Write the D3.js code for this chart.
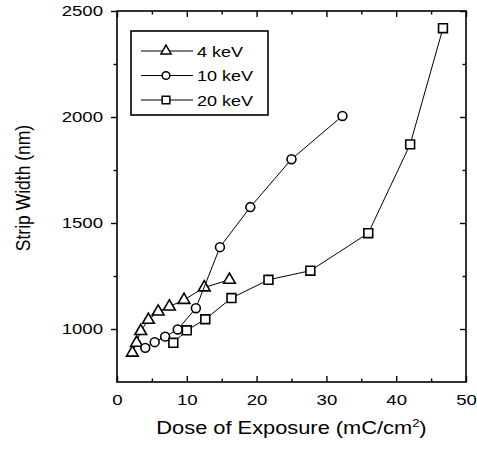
<!DOCTYPE html>
<html>
<head>
<meta charset="utf-8">
<script src="https://cdn.jsdelivr.net/npm/d3@7"></script>
<style>
  body { margin: 0; background: #fff; }
  svg text { font-family: "Liberation Sans", Arial, sans-serif; fill: #000; }
</style>
</head>
<body>
<svg id="chart" width="477" height="452"></svg>
<script>
// data
var doseTri = [2.2, 2.8, 3.4, 4.5, 5.9, 7.5, 9.6, 12.5, 16.1];
var widthTri = [888, 935, 990, 1043, 1082, 1106, 1137, 1196, 1232];
var doseCirc = [4.05, 5.4, 6.9, 8.7, 11.3, 14.75, 19.1, 25.0, 32.3];
var widthCirc = [911, 938, 964, 998, 1098, 1386, 1575, 1801, 2005];
var doseSq = [8.07, 10.0, 12.65, 16.4, 21.7, 27.7, 36.0, 42.0, 46.7];
var widthSq = [935, 994, 1046, 1146, 1232, 1275, 1452, 1871, 2419];
var seriesNames = ["4 keV", "10 keV", "20 keV"];
var xTicks = [0, 10, 20, 30, 40, 50];
var yTicks = [1000, 1500, 2000, 2500];

var margin = { top: 11, right: 11, bottom: 70, left: 117 },
  width = 466 - margin.left,
  height = 382 - margin.top;

var x = d3.scaleLinear().domain([0, 50]).range([0, width]);
var y = d3.scaleLinear().domain([750, 2500]).range([height, 0]);

var svg = d3.select("#chart")
  .append("g")
  .attr("transform", "translate(" + margin.left + "," + margin.top + ")");

// minor ticks on all sides
var xMinor = d3.range(5, 50, 10);
var yMinor = [1250, 1750, 2250];

function tickStyle(g) {
  g.select(".domain").remove();
  g.selectAll("line").attr("stroke", "#000").attr("stroke-width", 1.4);
  g.selectAll("text").style("font-size", "15.5px");
}

// bottom axis (the scan is a bit stretched sideways, hence scale(1.2,1))
svg.append("g")
  .attr("transform", "translate(0," + height + ")")
  .call(d3.axisBottom(x).tickValues(xTicks).tickSizeInner(-6).tickSizeOuter(0).tickPadding(12))
  .call(tickStyle)
  .selectAll("text").attr("transform", "scale(1.2,1)");
svg.append("g")
  .attr("transform", "translate(0," + height + ")")
  .call(d3.axisBottom(x).tickValues(xMinor).tickSizeInner(-3.5).tickSizeOuter(0).tickFormat(""))
  .call(tickStyle);
// top axis
svg.append("g")
  .call(d3.axisTop(x).tickValues(xTicks).tickSizeInner(-6).tickSizeOuter(0).tickFormat(""))
  .call(tickStyle);
svg.append("g")
  .call(d3.axisTop(x).tickValues(xMinor).tickSizeInner(-3.5).tickSizeOuter(0).tickFormat(""))
  .call(tickStyle);
// left axis
svg.append("g")
  .call(d3.axisLeft(y).tickValues(yTicks).tickSizeInner(6).tickSizeOuter(0).tickFormat(d3.format("d")))
  .call(tickStyle)
  .selectAll("text")
  .attr("x", 0)
  .attr("transform", "translate(-14,0) scale(1.2,1)");
svg.append("g")
  .call(d3.axisLeft(y).tickValues(yMinor).tickSizeInner(3.5).tickSizeOuter(0).tickFormat(""))
  .call(tickStyle);
// right axis
svg.append("g")
  .attr("transform", "translate(" + width + ",0)")
  .call(d3.axisRight(y).tickValues(yTicks).tickSizeInner(-6).tickSizeOuter(0).tickFormat(""))
  .call(tickStyle);
svg.append("g")
  .attr("transform", "translate(" + width + ",0)")
  .call(d3.axisRight(y).tickValues(yMinor).tickSizeInner(-3.5).tickSizeOuter(0).tickFormat(""))
  .call(tickStyle);

// frame
svg.append("rect")
  .attr("width", width)
  .attr("height", height)
  .attr("fill", "none")
  .attr("stroke", "#000")
  .attr("stroke-width", 1.6);

// axis titles
svg.append("text")
  .attr("transform", "translate(" + (width / 2) + "," + (height + 52) + ") scale(1.18,1)")
  .attr("text-anchor", "middle")
  .style("font-size", "18.5px")
  .html('Dose of Exposure (mC/cm<tspan dy="-7" font-size="11px">2</tspan><tspan dy="7">)</tspan>');

svg.append("text")
  .attr("transform", "translate(" + (30 - margin.left) + "," + (188 - margin.top) + ") rotate(-90) scale(1,1.15)")
  .attr("text-anchor", "middle")
  .style("font-size", "17.5px")
  .text("Strip Width (nm)");

var series = [
  { name: seriesNames[0], dose: doseTri, vals: widthTri, sym: d3.symbolTriangle, size: 60 },
  { name: seriesNames[1], dose: doseCirc, vals: widthCirc, sym: d3.symbolCircle, size: 62 },
  { name: seriesNames[2], dose: doseSq, vals: widthSq, sym: d3.symbolSquare, size: 78 }
];

var line = d3.line()
  .x(function (d) { return x(d[0]); })
  .y(function (d) { return y(d[1]); });

series.forEach(function (s) {
  var pts = s.dose.map(function (d, i) { return [d, s.vals[i]]; });
  svg.append("path")
    .datum(pts)
    .attr("fill", "none")
    .attr("stroke", "#000")
    .attr("stroke-width", 1)
    .attr("d", line);
  svg.selectAll(null)
    .data(pts)
    .enter().append("path")
    .attr("transform", function (d) { return "translate(" + x(d[0]) + "," + y(d[1]) + ")"; })
    .attr("d", d3.symbol().type(s.sym).size(s.size))
    .attr("fill", "#fff")
    .attr("stroke", "#000")
    .attr("stroke-width", 1.6);
});

// legend
var legend = svg.append("g").attr("transform", "translate(" + (131 - margin.left) + "," + (31 - margin.top) + ")");
legend.append("rect")
  .attr("width", 137)
  .attr("height", 84)
  .attr("fill", "#fff")
  .attr("stroke", "#000")
  .attr("stroke-width", 1.6);
series.forEach(function (s, i) {
  var ly = 20 + i * 24.5;
  legend.append("line")
    .attr("x1", 10).attr("x2", 62)
    .attr("y1", ly).attr("y2", ly)
    .attr("stroke", "#000").attr("stroke-width", 1);
  legend.append("path")
    .attr("transform", "translate(35," + ly + ")")
    .attr("d", d3.symbol().type(s.sym).size(s.size * 0.75))
    .attr("fill", "#fff")
    .attr("stroke", "#000")
    .attr("stroke-width", 1.5);
  legend.append("text")
    .attr("transform", "translate(66," + (ly + 5.5) + ") scale(1.2,1)")
    .style("font-size", "15px")
    .text(s.name);
});
</script>
</body>
</html>
